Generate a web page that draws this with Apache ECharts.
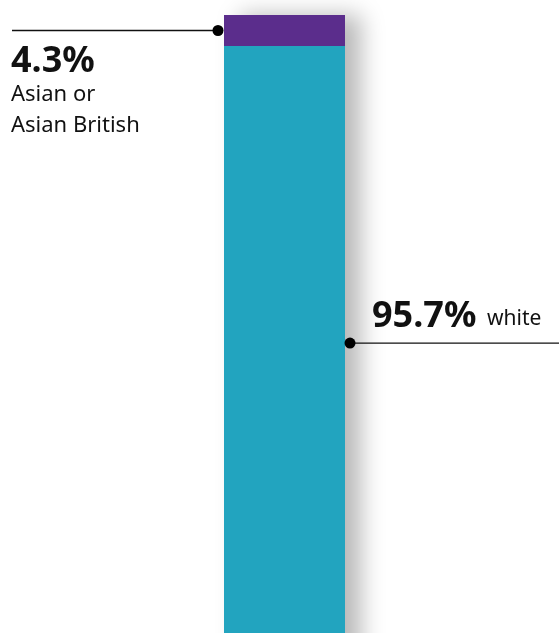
<!DOCTYPE html>
<html>
<head>
<meta charset="utf-8">
<script src="https://cdn.jsdelivr.net/npm/echarts@6/dist/echarts.min.js"></script>
<style>
  html, body { margin: 0; padding: 0; background: #fff; }
  #chart { width: 559px; height: 633px; }
</style>
</head>
<body>
<div id="chart"></div>
<script>
// Ethnic make-up, single stacked column (percent of total)
const categories = ['Ethnicity'];
const groupNames = ['white', 'Asian or Asian British'];
const whiteValues = [95.7];
const asianValues = [4.3];
const totalValues = [100];
const valueLabels = ['95.7%', '4.3%'];
const groupColors = ['#22A4BF', '#5B2D8C'];

const FONT = '"Noto Sans", sans-serif';

const chart = echarts.init(document.getElementById('chart'), null, { renderer: 'canvas' });

const option = {
  animation: false,
  backgroundColor: '#ffffff',
  grid: { left: 224, width: 121, top: 15, height: 721, outerBoundsMode: 'none', containLabel: false },
  xAxis: {
    type: 'category',
    data: categories,
    show: false
  },
  yAxis: {
    type: 'value',
    min: 0,
    max: 100,
    show: false
  },
  series: [
    {
      // backing column that casts the drop shadow behind both segments
      name: 'total',
      type: 'bar',
      barWidth: '100%',
      barGap: '-100%',
      data: totalValues,
      z: 1,
      silent: true,
      itemStyle: {
        color: '#ffffff',
        shadowColor: 'rgba(0,0,0,0.28)',
        shadowBlur: 22,
        shadowOffsetX: 16
      }
    },
    {
      name: groupNames[0],
      type: 'bar',
      stack: 'total',
      barWidth: '100%',
      barGap: '-100%',
      data: whiteValues,
      z: 2,
      itemStyle: { color: groupColors[0] }
    },
    {
      name: groupNames[1],
      type: 'bar',
      stack: 'total',
      barWidth: '100%',
      barGap: '-100%',
      data: asianValues,
      z: 2,
      itemStyle: { color: groupColors[1] }
    }
  ]
};
chart.setOption(option);

// Leader lines with callout text, anchored to the bar segments through the axis scales
const cat = categories[0];
const asianMid = whiteValues[0] + asianValues[0] / 2;
const whiteAnchor = 54.5;

const leftEdge = chart.convertToPixel({ gridIndex: 0 }, [cat, 0])[0] - 121 / 2;
const rightEdge = leftEdge + 121;
const yAsian = chart.convertToPixel({ gridIndex: 0 }, [cat, asianMid])[1];
const yWhite = chart.convertToPixel({ gridIndex: 0 }, [cat, whiteAnchor])[1];

const lineStyle = { stroke: '#111', lineWidth: 1.3 };
const dotR = 5.5;

chart.setOption({
  graphic: [
    // Asian or Asian British callout
    { type: 'line', shape: { x1: 12, y1: yAsian, x2: leftEdge - 6, y2: yAsian }, style: lineStyle, z: 10 },
    { type: 'circle', shape: { cx: leftEdge - 6, cy: yAsian, r: dotR }, style: { fill: '#000' }, z: 11 },
    { type: 'text', x: 11, y: yAsian + 13,
      style: { text: valueLabels[1], font: 'bold 36px ' + FONT, fill: '#111', textVerticalAlign: 'top' }, z: 10 },
    { type: 'text', x: 11, y: yAsian + 49,
      style: { text: 'Asian or\nAsian British', font: '22px ' + FONT, lineHeight: 31, fill: '#111', textVerticalAlign: 'top' }, z: 10 },

    // white callout
    { type: 'line', shape: { x1: rightEdge + 5, y1: yWhite, x2: 559, y2: yWhite }, style: lineStyle, z: 10 },
    { type: 'circle', shape: { cx: rightEdge + 5, cy: yWhite, r: dotR }, style: { fill: '#000' }, z: 11 },
    { type: 'text', x: 372, y: yWhite - 44,
      style: { text: valueLabels[0], font: 'bold 36px ' + FONT, fill: '#111', textVerticalAlign: 'top' }, z: 10 },
    { type: 'text', x: 487, y: yWhite - 35,
      style: { text: groupNames[0], font: '21px ' + FONT, fill: '#111', textVerticalAlign: 'top' }, z: 10 }
  ]
});
</script>
</body>
</html>
